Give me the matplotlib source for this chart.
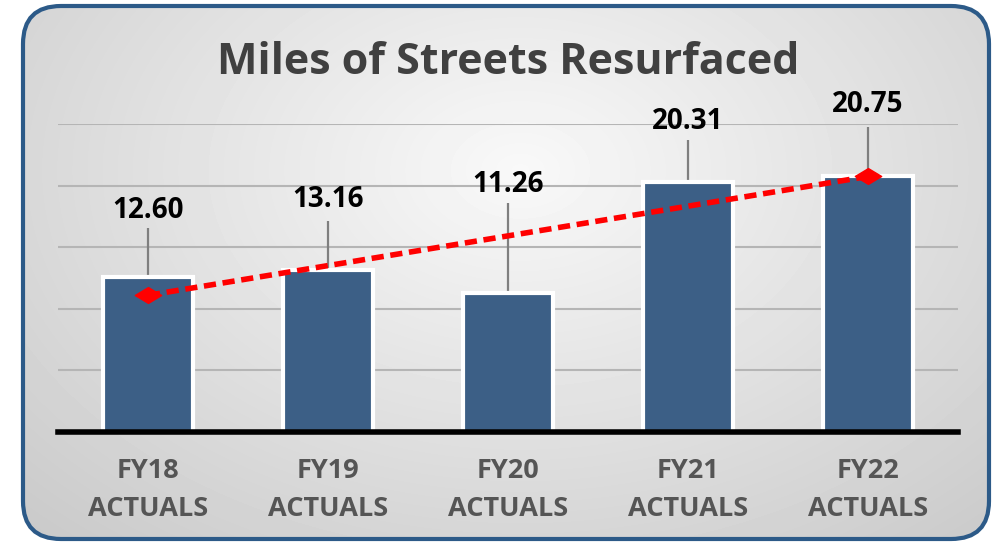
import numpy as np
import matplotlib.pyplot as plt
from matplotlib.patches import FancyBboxPatch
from matplotlib.path import Path

# data
categories = ["FY18\nACTUALS", "FY19\nACTUALS", "FY20\nACTUALS", "FY21\nACTUALS", "FY22\nACTUALS"]
miles = [12.60, 13.16, 11.26, 20.31, 20.75]
trend_x = [0, 4]
trend_y = [11.1, 20.75]
# label placement (data units), labels sit at different heights in the original
label_y = [18.0, 18.9, 20.1, 25.2, 26.6]
leader_top = [16.6, 17.1, 18.6, 23.7, 24.8]

plt.rcParams['font.family'] = ['Open Sans', 'DejaVu Sans']

fig = plt.figure(figsize=(10, 5.45), dpi=100)

# background panel with rounded border and radial grey gradient
bg = fig.add_axes([0, 0, 1, 1])
bg.set_xlim(0, 1000)
bg.set_ylim(545, 0)
bg.axis('off')
box = FancyBboxPatch((23, 6), 966, 533, boxstyle="round,pad=0,rounding_size=38",
                     facecolor='none', edgecolor='#2C5A88', linewidth=3, zorder=3)
bg.add_patch(box)
yy, xx = np.mgrid[0:545, 0:1000]
d = np.sqrt(((xx - 520) / 620.0) ** 2 + ((yy - 170) / 430.0) ** 2)
shade = np.clip(0.975 - 0.16 * d, 0, 1)
img = bg.imshow(shade, cmap='gray', vmin=0, vmax=1, extent=(0, 1000, 545, 0),
                aspect='auto', zorder=1)
img.set_clip_path(box)

bg.text(508, 62, "Miles of Streets Resurfaced", ha='center', va='center',
        fontsize=31, fontweight='bold', color='#404040')

# main chart
ax = fig.add_axes([0.058, 0.2073, 0.9, 0.565])
ax.patch.set_alpha(0)
ax.set_xlim(-0.5, 4.5)
ax.set_ylim(0, 25)
x = np.arange(len(miles))

ax.bar(x, miles, width=0.5, color='#3C5F86', edgecolor='white', linewidth=3, zorder=3)

ax.vlines(x, miles, leader_top, color='#7F7F7F', linewidth=1.6, zorder=2, clip_on=False)
for xi, v, ly in zip(x, miles, label_y):
    ax.text(xi, ly, f"{v:.2f}", ha='center', va='center', fontsize=20,
            fontweight='bold', color='black', clip_on=False)

# flattened diamond like the excel marker
flat_diamond = Path([(-1, 0), (0, 0.6), (1, 0), (0, -0.6), (-1, 0)],
                    [Path.MOVETO, Path.LINETO, Path.LINETO, Path.LINETO, Path.CLOSEPOLY])
ax.plot(trend_x, trend_y, color='#FF0000', linewidth=4, dashes=(2.2, 1.2), zorder=5)
ax.plot(trend_x, trend_y, linestyle='none', marker=flat_diamond, markersize=19,
        color='#FF0000', zorder=6)

ax.set_yticks([5, 10, 15, 20, 25])
ax.yaxis.grid(True, color='#B5B5B5', linewidth=1.5)
ax.set_axisbelow(True)
ax.tick_params(axis='y', left=False, labelleft=False)
for s in ax.spines.values():
    s.set_visible(False)
ax.axhline(0, color='black', linewidth=4, zorder=4, clip_on=False)

ax.set_xticks(x, categories)
ax.tick_params(axis='x', length=0, pad=19)
for lab in ax.get_xticklabels():
    lab.set_fontsize(19.5)
    lab.set_fontweight('bold')
    lab.set_color('#555555')
    lab.set_linespacing(1.6)

fig.savefig('out.png', dpi=100)
